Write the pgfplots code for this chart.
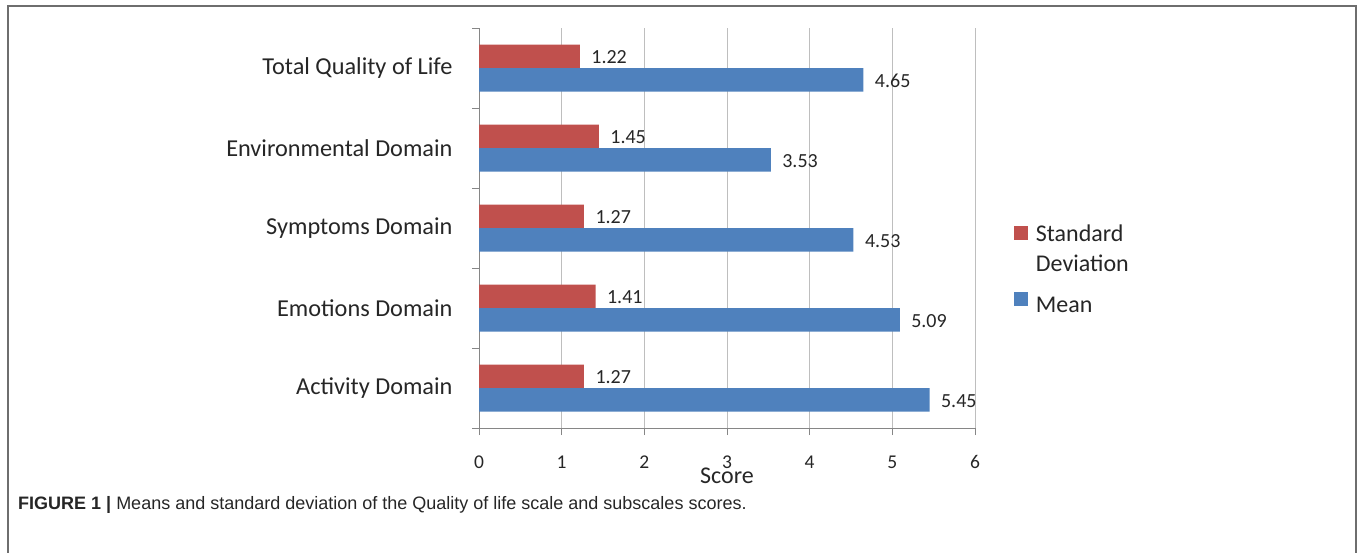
\documentclass[border=0pt]{standalone}
\usepackage{pgfplots}
\pgfplotsset{compat=1.18}
\usepackage{fontspec}
\setmainfont{Carlito}
\newfontfamily\capfont{Liberation Sans}
\definecolor{sdred}{RGB}{192,80,77}
\definecolor{meanblue}{RGB}{79,129,189}
\definecolor{axisgray}{RGB}{134,134,134}
\definecolor{gridgray}{RGB}{190,190,190}
\definecolor{framegray}{RGB}{110,110,110}
\begin{document}
\begin{tikzpicture}
  \useasboundingbox (0,0) rectangle (1357pt,552pt);
  % outer frame, its bottom edge lies below the page
  \draw[framegray, line width=2pt] (7.5pt,-20pt) -- (7.5pt,546pt) -- (1355.5pt,546pt) -- (1355.5pt,-20pt);

\begin{axis}[
  at={(479pt,124pt)}, anchor=south west,
  scale only axis, width=496pt, height=400pt,
  xmin=0, xmax=6, ymin=0, ymax=5,
  xbar, bar width=23.5pt,
  axis x line*=bottom, axis y line*=left,
  axis line style={draw=axisgray, line width=1pt},
  xtick={0,...,6},
  xmajorgrids, grid style={draw=gridgray, line width=1pt},
  tick align=outside,
  major tick length=7pt, minor tick length=7pt,
  major x tick style={draw=axisgray, line width=1pt},
  ytick={0.5,1.5,2.5,3.5,4.5},
  yticklabels={Activity Domain, Emotions Domain, Symptoms Domain, Environmental Domain, Total Quality of Life},
  major y tick style={draw=none},
  minor ytick={0,...,5},
  minor y tick style={draw=axisgray, line width=1pt},
  /pgf/number format/assume math mode=true,
  xticklabel style={font=\fontsize{19.5}{23}\selectfont, text=black!85, yshift=-17pt},
  yticklabel style={font=\fontsize{24.3}{29}\selectfont, text=black!85, xshift=-16pt},
  xlabel={Score},
  xlabel style={font=\fontsize{24}{29}\selectfont, text=black!85, yshift=8pt},
  nodes near coords={\pgfmathprintnumber[fixed, fixed zerofill, precision=2]{\pgfplotspointmeta}},
  nodes near coords style={font=\fontsize{20}{24}\selectfont, text=black!85, anchor=west, xshift=8pt, yshift=-1pt},
  legend cell align=left,
  legend style={draw=none, fill=none, at={(1.072,0.5175)}, anchor=north west,
    font=\fontsize{24}{29}\selectfont, text=black!85,
    row sep=8pt, column sep=6pt},
  legend image code/.code={\fill[#1, draw=none] (0pt,-6pt) rectangle (14pt,8pt);},
]
\addplot[fill=sdred, draw=none, bar shift=11.75pt] coordinates {
  (1.27,0.5) (1.41,1.5) (1.27,2.5) (1.45,3.5) (1.22,4.5)
};
\addlegendentry{\rule[-6pt]{0pt}{22pt}Standard}
\addlegendimage{empty legend}
\addlegendentry{\rule[-6pt]{0pt}{22pt}Deviation}
\addplot[fill=meanblue, draw=none, bar shift=-11.75pt] coordinates {
  (5.45,0.5) (5.09,1.5) (4.53,2.5) (3.53,3.5) (4.65,4.5)
};
\addlegendentry{\rule[-6pt]{0pt}{33pt}Mean}
\end{axis}

  \node[anchor=base west, inner sep=0pt, text=black!85, font=\capfont\fontsize{18}{21}\selectfont]
    at (18pt,43pt) {\textbf{FIGURE 1 |} Means and standard deviation of the Quality of life scale and subscales scores.};
\end{tikzpicture}
\end{document}
